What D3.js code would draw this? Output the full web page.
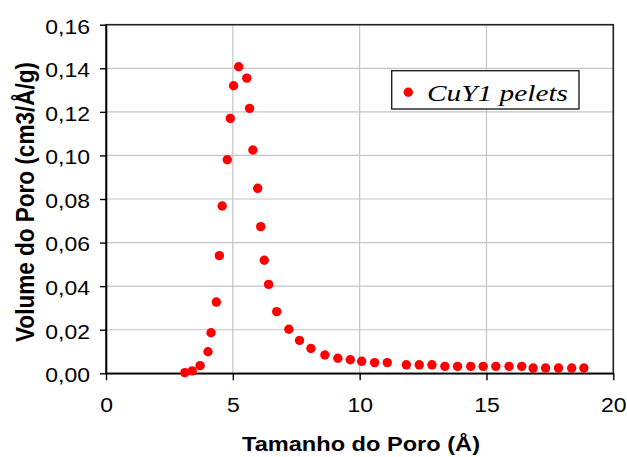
<!DOCTYPE html>
<html>
<head>
<meta charset="utf-8">
<script src="https://cdn.jsdelivr.net/npm/d3@7/dist/d3.min.js"></script>
<style>
  html, body { margin: 0; padding: 0; background: #fff; }
  svg { display: block; }
</style>
</head>
<body>
<svg id="chart" width="627" height="457"></svg>
<script>
const seriesName = "CuY1 pelets";
const poreSize = [3.11, 3.40, 3.71, 4.02, 4.14, 4.35, 4.47, 4.58, 4.78, 4.90, 5.03, 5.23, 5.55, 5.66, 5.79, 5.98, 6.10, 6.24, 6.41, 6.73, 7.21, 7.63, 8.08, 8.63, 9.14, 9.63, 10.08, 10.59, 11.09, 11.84, 12.35, 12.85, 13.36, 13.86, 14.38, 14.87, 15.37, 15.89, 16.39, 16.84, 17.33, 17.84, 18.36, 18.84];
const poreVolume = [0.0003, 0.0011, 0.0035, 0.0099, 0.0186, 0.0327, 0.0540, 0.0768, 0.0980, 0.1170, 0.1320, 0.1407, 0.1355, 0.1216, 0.1025, 0.0849, 0.0673, 0.0519, 0.0408, 0.0283, 0.0202, 0.0151, 0.0114, 0.0084, 0.0069, 0.0062, 0.0055, 0.0049, 0.0049, 0.0039, 0.0039, 0.0039, 0.0032, 0.0032, 0.0032, 0.0032, 0.0032, 0.0032, 0.0032, 0.0024, 0.0024, 0.0024, 0.0024, 0.0024];
const xTicks = [0, 5, 10, 15, 20];
const yTicks = [0, 0.02, 0.04, 0.06, 0.08, 0.10, 0.12, 0.14, 0.16];
const xTitle = "Tamanho do Poro (Å)";
const yTitle = "Volume do Poro (cm3/Å/g)";

const svg = d3.select("#chart");
const pLeft = 106, pRight = 613.3, pTop = 24.7, pBottom = 373.3;
const stretch = 1.12;
const sans = "'Liberation Sans', Arial, sans-serif";
const x = d3.scaleLinear().domain([0, 20]).range([pLeft, pRight]);
const y = d3.scaleLinear().domain([0, 0.16]).range([pBottom, pTop]);
const fmt = d => d3.format(".2f")(d).replace(".", ",");

function widen(sel, k) {
  sel.each(function () {
    const w = this.getComputedTextLength();
    d3.select(this).attr("textLength", w * k).attr("lengthAdjust", "spacingAndGlyphs");
  });
}

// gridlines
svg.append("g").selectAll("line").data(yTicks.slice(1)).join("line")
  .attr("x1", pLeft).attr("x2", pRight)
  .attr("y1", d => y(d)).attr("y2", d => y(d))
  .attr("stroke", "#c4c4c4").attr("stroke-width", 1.2);
svg.append("g").selectAll("line").data(xTicks.slice(1, -1)).join("line")
  .attr("y1", pTop).attr("y2", pBottom)
  .attr("x1", d => x(d)).attr("x2", d => x(d))
  .attr("stroke", "#c4c4c4").attr("stroke-width", 1.2);

// plot border
svg.append("rect").attr("x", pLeft).attr("y", pTop)
  .attr("width", pRight - pLeft).attr("height", pBottom - pTop)
  .attr("fill", "none").attr("stroke", "#222").attr("stroke-width", 1.6);

// axes
const xAxis = d3.axisBottom(x).tickValues(xTicks).tickSizeInner(7).tickSizeOuter(0).tickPadding(17.5).tickFormat(d3.format("d"));
const yAxis = d3.axisLeft(y).tickValues(yTicks).tickSizeInner(6).tickSizeOuter(0).tickPadding(10).tickFormat(fmt);
const gx = svg.append("g").attr("transform", `translate(0,${pBottom})`).call(xAxis);
const gy = svg.append("g").attr("transform", `translate(${pLeft},0)`).call(yAxis);
[gx, gy].forEach(g => {
  g.select(".domain").attr("stroke", "#000").attr("stroke-width", 1.6);
  g.selectAll(".tick line").attr("stroke", "#000").attr("stroke-width", 1.4);
  g.selectAll(".tick text").attr("fill", "#000")
    .style("font-family", sans).style("font-size", "20.5px");
});
gy.selectAll(".tick text").attr("dy", "0.41em");
widen(gx.selectAll(".tick text"), stretch);
widen(gy.selectAll(".tick text"), stretch);

// points
svg.append("g").selectAll("circle").data(poreSize.map((v, i) => [v, poreVolume[i]])).join("circle")
  .attr("cx", d => x(d[0])).attr("cy", d => y(d[1])).attr("r", 4.7)
  .attr("fill", "#ff0000");

// axis titles
svg.append("text").attr("x", 361).attr("y", 451)
  .attr("text-anchor", "middle")
  .attr("textLength", 238).attr("lengthAdjust", "spacingAndGlyphs")
  .style("font-family", sans).style("font-size", "21px").style("font-weight", "bold")
  .text(xTitle);
svg.append("text").attr("transform", "translate(33.5,202) scale(1.18,1) rotate(-90)")
  .attr("text-anchor", "middle")
  .attr("textLength", 280).attr("lengthAdjust", "spacingAndGlyphs")
  .style("font-family", sans).style("font-size", "22px").style("font-weight", "bold")
  .text(yTitle);

// legend
const lg = svg.append("g");
lg.append("rect").attr("x", 391.7).attr("y", 70.7).attr("width", 187.3).attr("height", 38.3)
  .attr("fill", "#fff").attr("stroke", "#222").attr("stroke-width", 1.4);
lg.append("circle").attr("cx", 408.3).attr("cy", 92.3).attr("r", 4.7).attr("fill", "#ff0000");
lg.append("text").attr("x", 427).attr("y", 100.5)
  .attr("textLength", 141).attr("lengthAdjust", "spacingAndGlyphs")
  .style("font-family", "'Liberation Serif', 'Times New Roman', serif").style("font-size", "23.5px").style("font-style", "italic")
  .text(seriesName);
</script>
</body>
</html>
